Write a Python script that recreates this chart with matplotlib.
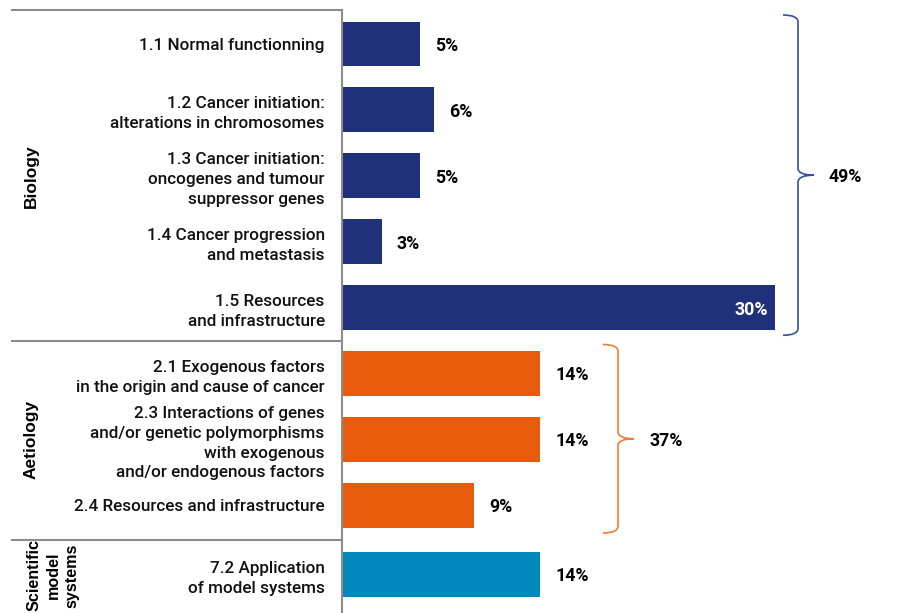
import matplotlib.pyplot as plt
import numpy as np
from matplotlib.path import Path
from matplotlib.patches import PathPatch
from matplotlib.transforms import blended_transform_factory

plt.rcParams['font.family'] = ['Roboto', 'DejaVu Sans']

# Data
categories = [
    '1.1 Normal functionning',
    '1.2 Cancer initiation:\nalterations in chromosomes',
    '1.3 Cancer initiation:\noncogenes and tumour\nsuppressor genes',
    '1.4 Cancer progression\nand metastasis',
    '1.5 Resources\nand infrastructure',
    '2.1 Exogenous factors\nin the origin and cause of cancer',
    '2.3 Interactions of genes\nand/or genetic polymorphisms\nwith exogenous\nand/or endogenous factors',
    '2.4 Resources and infrastructure',
    '7.2 Application\nof model systems',
]
values = [5.3, 6.3, 5.3, 2.7, 29.5, 13.5, 13.5, 9.0, 13.5]
value_labels = ['5%', '6%', '5%', '3%', '30%', '14%', '14%', '9%', '14%']
groups = [0, 0, 0, 0, 0, 1, 1, 1, 2]
group_names = ['Biology', 'Aetiology', 'Scientific\nmodel\nsystems']
group_totals = ['49%', '37%', None]

colors = ['#1f317a', '#e95b0c', '#0089ba']
brace_colors = ['#34509f', '#f07a3a']

W, H = 905, 613
fig = plt.figure(figsize=(W / 100, H / 100), dpi=100)
ax_left, ax_top = 342, 10
ax = fig.add_axes([ax_left / W, 0, (W - ax_left) / W, (H - ax_top) / H])

# positions: small extra gap before the last group
pos = np.arange(len(values), dtype=float)
pos[-1] += 0.05

px_x = 14.68   # px per % on x
px_y = 65.9    # px per unit on y
ax.set_xlim(0, (W - ax_left) / px_x)
ax.set_ylim(pos[0] + (H - 44) / px_y, pos[0] - (44 - ax_top) / px_y)

bar_colors = [colors[g] for g in groups]
ax.barh(pos, values, height=0.68, color=bar_colors)

for p, v, lab in zip(pos, values, value_labels):
    if v > 20:
        ax.annotate(lab, (v, p), xytext=(-7, -2), textcoords='offset pixels',
                    ha='right', va='center', color='white',
                    fontsize=12.8, fontweight='bold')
    else:
        ax.annotate(lab, (v, p), xytext=(15, -2), textcoords='offset pixels',
                    ha='left', va='center', color='black',
                    fontsize=12.8, fontweight='bold')

ax.set_yticks(pos, categories)
ax.tick_params(axis='y', length=0, pad=12.5, labelsize=12.3, colors='#111111')
for t in ax.get_yticklabels():
    t.set_ha('right')
    t.set_multialignment('right')
    t.set_fontweight('medium')
    t.set_linespacing(1.4)
ax.set_xticks([])
for s in ['top', 'right', 'bottom']:
    ax.spines[s].set_visible(False)
ax.spines['left'].set_color('#8c8c8c')
ax.spines['left'].set_linewidth(1.5)

# group separators and labels
trans = blended_transform_factory(fig.transFigure, ax.transData)
group_idx = sorted(set(groups))
bounds = []
for g in group_idx:
    idx = [i for i, gg in enumerate(groups) if gg == g]
    bounds.append((idx[0], idx[-1]))

sep_y = [ax.get_ylim()[1]]
for (a0, a1), (b0, b1) in zip(bounds[:-1], bounds[1:]):
    sep_y.append((pos[a1] + pos[b0]) / 2)
for y in sep_y:
    ax.plot([12 / W, ax_left / W], [y, y], transform=trans, color='#8c8c8c',
            lw=1.5, clip_on=False)

for g, (i0, i1) in zip(group_idx, bounds):
    if g < 2:
        ax.text(31 / W, (pos[i0] + pos[i1]) / 2, group_names[g], transform=trans,
                rotation=90, ha='center', va='center', fontsize=12.5,
                fontweight='bold', family='Liberation Sans')
    else:
        ax.text(53 / W, pos[i0] + 1 / px_y, group_names[g], transform=trans,
                rotation=90, ha='center', va='center', fontsize=11.6,
                fontweight='bold', family='Liberation Sans',
                multialignment='center', linespacing=1.3)


def draw_brace(ax, x, y0, y1, color, hook=15, tip=16, r=7):
    hx = hook / px_x
    tx = tip / px_x
    ry = r / px_y
    ym = (y0 + y1) / 2
    verts = [
        (x - hx, y0), (x, y0), (x, y0 + ry),
        (x, ym - ry),
        (x, ym), (x + tx, ym),
        (x, ym), (x, ym + ry),
        (x, y1 - ry),
        (x, y1), (x - hx, y1),
    ]
    codes = [Path.MOVETO, Path.CURVE3, Path.CURVE3,
             Path.LINETO,
             Path.CURVE3, Path.CURVE3,
             Path.CURVE3, Path.CURVE3,
             Path.LINETO,
             Path.CURVE3, Path.CURVE3]
    ax.add_patch(PathPatch(Path(verts, codes), fill=False, edgecolor=color,
                           lw=1.2, clip_on=False))
    return x + tx


brace_x = [(798 - ax_left) / px_x, (618 - ax_left) / px_x]
for g, (i0, i1) in zip(group_idx, bounds):
    if group_totals[g] is None:
        continue
    y0 = pos[i0] - 0.44
    y1 = pos[i1] + 0.42
    xt = draw_brace(ax, brace_x[g], y0, y1, brace_colors[g])
    ax.annotate(group_totals[g], (xt, (y0 + y1) / 2), xytext=(15, -2),
                textcoords='offset pixels', ha='left', va='center',
                fontsize=12.8, fontweight='bold')

fig.savefig('out.png', dpi=100, facecolor='white')
